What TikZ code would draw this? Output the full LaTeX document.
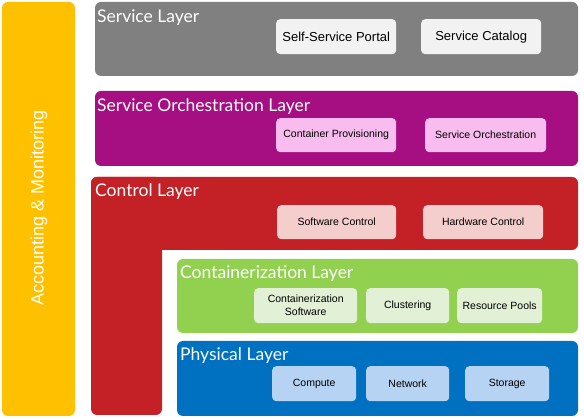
\documentclass[tikz,border=0pt]{standalone}
\usepackage{fontspec}
\setmainfont{Liberation Sans}
\newfontfamily\titlefont{Lato}
\definecolor{cyel}{HTML}{FFC000}
\definecolor{cgray}{HTML}{808080}
\definecolor{cpurp}{HTML}{A50F82}
\definecolor{cred}{HTML}{C32126}
\definecolor{cgreen}{HTML}{92D050}
\definecolor{cblue}{HTML}{0070C0}
\definecolor{sgray}{HTML}{F2F2F2}
\definecolor{spurp}{HTML}{F9BCEE}
\definecolor{sred}{HTML}{F4CDCD}
\definecolor{sgreen}{HTML}{E2F0D5}
\definecolor{sblue}{HTML}{B6D3F4}
\begin{document}
\begin{tikzpicture}[x=1pt,y=-1pt,
  layer/.style={rounded corners=6pt},
  ltitle/.style={anchor=base west,text=white,font=\titlefont\fontsize{17.5}{20}\selectfont,inner sep=0pt},
  sub/.style={rounded corners=4pt,anchor=north west,inner sep=1pt,align=center,text=black,font=\fontsize{10.5}{12}\selectfont},
  bigsub/.style={sub,font=\fontsize{13}{15}\selectfont},
]
\useasboundingbox (0,0) rectangle (584,419);
% accounting bar
\fill[cyel,layer] (2,2) rectangle (75,416);
\node[rotate=90,text=white,font=\fontsize{18}{20}\selectfont,inner sep=0pt] (acc) at (39,208) {Accounting \& Monitoring};
% service layer
\fill[cgray,layer] (95,2) rectangle (578,76);
\node[ltitle] (tsl) at (97,23) {Service Layer};
\node[bigsub,fill=sgray,minimum width=120pt,minimum height=35pt] (ssp) at (276,19) {Self-Service Portal};
\node[bigsub,fill=sgray,minimum width=120pt,minimum height=35pt] (sc) at (421,19) {Service Catalog};
% orchestration layer
\fill[cpurp,layer] (95,91) rectangle (578,166);
\node[ltitle] (tsol) at (97,112) {Service Orchestration Layer};
\node[sub,fill=spurp,minimum width=120pt,minimum height=34pt] (cp) at (276,118) {Container Provisioning};
\node[sub,fill=spurp,minimum width=121pt,minimum height=34pt] (so) at (425,118) {Service Orchestration};
% control layer (L-shape)
\fill[cred,layer] (91,177) rectangle (578,250);
\fill[cred,layer] (91,177) rectangle (162,415);
\node[ltitle] (tcl) at (95,197) {Control Layer};
\node[sub,fill=sred,minimum width=119pt,minimum height=34pt] (swc) at (277,205) {Software Control};
\node[sub,fill=sred,minimum width=120pt,minimum height=34pt] (hwc) at (423,205) {Hardware Control};
% containerization layer
\fill[cgreen,layer] (177,259) rectangle (578,333);
\node[ltitle] (tctl) at (180,279) {Containerization Layer};
\node[sub,fill=sgreen,minimum width=103pt,minimum height=35pt,font=\fontsize{10.5}{13}\selectfont] (cs) at (254,288) {Containerization\\Software};
\node[sub,fill=sgreen,minimum width=83pt,minimum height=35pt] (cl) at (366,288) {Clustering};
\node[sub,fill=sgreen,minimum width=85pt,minimum height=35pt] (rp) at (457,288) {Resource Pools};
% physical layer
\fill[cblue,layer] (177,341) rectangle (578,416);
\node[ltitle] (tpl) at (180,361) {Physical Layer};
\node[sub,fill=sblue,minimum width=84pt,minimum height=35pt] (cmp) at (272,366) {Compute};
\node[sub,fill=sblue,minimum width=83pt,minimum height=35pt] (net) at (366,366) {Network};
\node[sub,fill=sblue,minimum width=84pt,minimum height=35pt] (sto) at (465,366) {Storage};
\end{tikzpicture}
\end{document}
